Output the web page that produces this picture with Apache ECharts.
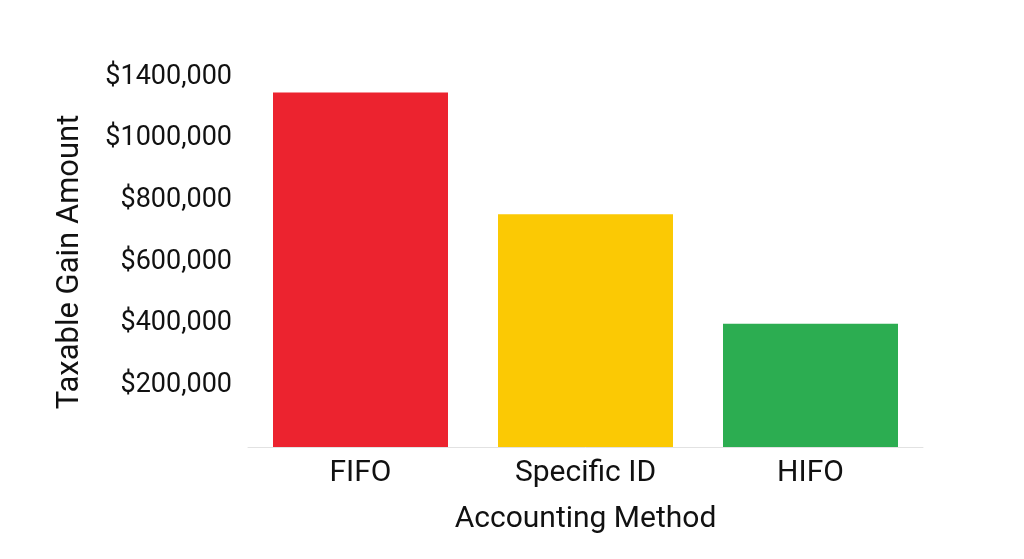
<!DOCTYPE html>
<html>
<head>
<meta charset="utf-8">
<script src="https://cdn.jsdelivr.net/npm/echarts@6/dist/echarts.min.js"></script>
<style>
  html, body { margin: 0; padding: 0; background: #fff; }
  #chart { width: 1024px; height: 559px; }
</style>
</head>
<body>
<div id="chart"></div>
<script>
const categories = ['FIFO', 'Specific ID', 'HIFO']
const gains = [1150000, 755000, 400000]
const barColors = ['#ec232f', '#fbc904', '#2cad51']
const tickValues = [0, 200000, 400000, 600000, 800000, 1000000, 1200000]
const tickLabels = ['', '$200,000', '$400,000', '$600,000', '$800,000', '$1000,000', '$1400,000']

const chart = echarts.init(document.getElementById('chart'))

chart.setOption({
  animation: false,
  textStyle: { fontFamily: 'Roboto' },
  grid: { left: 248, right: 101, top: 77, bottom: 112 },
  xAxis: {
    type: 'category',
    data: categories,
    name: 'Accounting Method',
    nameLocation: 'middle',
    nameGap: 57,
    nameTextStyle: { color: '#111', fontSize: 30, fontFamily: 'Roboto' },
    axisLine: { lineStyle: { color: '#e2e2e2', width: 1 } },
    axisTick: { show: false },
    axisLabel: { color: '#111', fontSize: 30, margin: 11 },
  },
  yAxis: {
    type: 'value',
    min: 0,
    max: 1200000,
    interval: 200000,
    name: 'Taxable Gain Amount',
    nameLocation: 'middle',
    nameGap: 162,
    nameTextStyle: { color: '#111', fontSize: 31, fontFamily: 'Roboto' },
    axisLine: { show: false },
    axisTick: { show: false },
    splitLine: { show: false },
    axisLabel: {
      color: '#111',
      fontSize: 27,
      margin: 16,
      formatter: (v) => tickLabels[tickValues.indexOf(v)] ?? '',
    },
  },
  series: [{
    type: 'bar',
    data: gains.map((v, i) => ({ value: v, itemStyle: { color: barColors[i] } })),
    barWidth: 175,
  }],
})
</script>
</body>
</html>
